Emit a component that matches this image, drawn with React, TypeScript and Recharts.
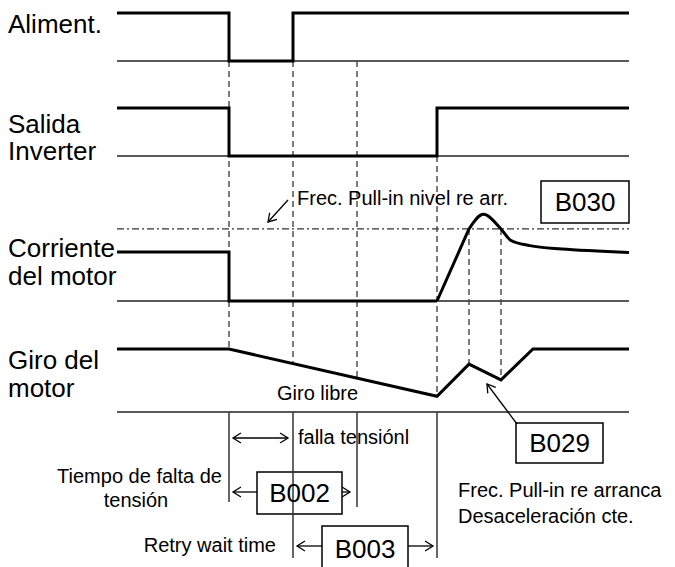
import { ComposedChart, Line, XAxis, YAxis, ReferenceLine, ReferenceArea, ReferenceDot } from "recharts";

const W = 675;
const H = 567;
const X0 = 117; // pixel where t = 0
const STEP = 32; // pixels per time step
const tx = (px: number) => (px - X0) / STEP;

// time steps, signal levels (1 = normal level)
const T_END = 16;
const powerT = [0, 3.5, 5.5, 16];
const powerV = [1, 0, 1, 1];
const outputT = [0, 3.5, 10, 16];
const outputV = [1, 0, 1, 1];
const currentT = [0, 3.5, 10];
const currentV = [1, 0, 0];
const riseT = [10, 11];
const riseV = [0, 1.47];
const recoverT = [11, 11.45, 12, 12.3, 12.9, 13.9, 15, 16];
const recoverV = [1.47, 1.77, 1.47, 1.24, 1.13, 1.06, 1.02, 0.99];
const speedT = [0, 3.5, 10, 11, 12, 13, 16];
const speedV = [1, 1, 0.25, 0.76, 0.51, 1, 1];
const pullInLevel = 1.47;
const markT = [3.5, 5.5, 7.5, 10, 11, 12];

const rows = {
  power: { base: 61, amp: 48 },
  output: { base: 156, amp: 48 },
  current: { base: 301, amp: 49 },
  speed: { base: 412, amp: 63 },
};
type Row = { base: number; amp: number };
const lv = (row: Row, v: number) => row.base - v * row.amp;
const pts = (ts: number[], vs: number[], row: Row) => ts.map((t, i) => ({ t, y: lv(row, vs[i]) }));

const speedAt = (t: number) => {
  for (let i = 1; i < speedT.length; i++) {
    if (t <= speedT[i]) {
      const k = (t - speedT[i - 1]) / (speedT[i] - speedT[i - 1]);
      return lv(rows.speed, speedV[i - 1] + k * (speedV[i] - speedV[i - 1]));
    }
  }
  return lv(rows.speed, speedV[speedV.length - 1]);
};

const pullY = lv(rows.current, pullInLevel);
const markTop = (t: number) => (t < 10 ? rows.power.base : t === 10 ? rows.output.base : pullY);
const markBottom: Record<number, number> = { 3.5: 502, 5.5: 558, 7.5: 507, 10: 558 };

const FONT = '"Liberation Sans", Arial, sans-serif';

function arrow(both: boolean) {
  return (p: any) => {
    const { x1, y1, x2, y2 } = p;
    const a = Math.atan2(y2 - y1, x2 - x1);
    const L = 9.4;
    const S = 0.56;
    const head = (x: number, y: number, ang: number) =>
      `${x + L * Math.cos(ang + Math.PI - S)},${y + L * Math.sin(ang + Math.PI - S)} ${x},${y} ${x + L * Math.cos(ang + Math.PI + S)},${y + L * Math.sin(ang + Math.PI + S)}`;
    return (
      <g fill="none" stroke="#000" strokeWidth={1.3}>
        <line x1={x1} y1={y1} x2={x2} y2={y2} />
        <polyline points={head(x2, y2, a)} />
        {both && <polyline points={head(x1, y1, a + Math.PI)} />}
      </g>
    );
  };
}

function note(key: string, px: number, py: number, text: string, size: number, anchor: "start" | "middle" | "end" = "start") {
  return (
    <ReferenceDot
      key={key}
      x={tx(px)}
      y={py}
      r={0}
      ifOverflow="visible"
      shape={(p: any) => (
        <text x={p.cx} y={p.cy} fontSize={size} textAnchor={anchor} fill="#000" fontFamily={FONT}>
          {text}
        </text>
      )}
    />
  );
}

function box(key: string, x1: number, x2: number, y1: number, y2: number, text: string) {
  return (
    <ReferenceArea
      key={key}
      x1={tx(x1)}
      x2={tx(x2)}
      y1={y1}
      y2={y2}
      ifOverflow="visible"
      fill="#fff"
      fillOpacity={1}
      stroke="#000"
      strokeWidth={1.5}
      label={{ value: text, position: "center", fontSize: 26, fill: "#000", fontFamily: FONT }}
    />
  );
}

function seg(key: string, t1: number, y1: number, t2: number, y2: number, shape: any) {
  return <ReferenceLine key={key} segment={[{ x: t1, y: y1 }, { x: t2, y: y2 }]} ifOverflow="visible" shape={shape} />;
}

function signal(data: { t: number; y: number }[], type: "stepAfter" | "linear" | "monotone") {
  return (
    <Line
      data={data}
      dataKey="y"
      type={type}
      stroke="#000"
      strokeWidth={3}
      dot={false}
      activeDot={false}
      isAnimationActive={false}
    />
  );
}

export default function App() {
  return (
    <div style={{ position: "absolute", left: 0, top: 0, width: W, height: H, background: "#fff", fontFamily: FONT }}>
      <ComposedChart width={W} height={H} margin={{ top: 0, right: 0, bottom: 0, left: 0 }}>
        <XAxis type="number" dataKey="t" domain={[-X0 / STEP, (W - X0) / STEP]} allowDataOverflow hide />
        <YAxis type="number" dataKey="y" domain={[0, H]} reversed allowDataOverflow hide />

        {Object.entries(rows).map(([k, r]) => (
          <ReferenceLine key={"base-" + k} segment={[{ x: 0, y: r.base }, { x: T_END, y: r.base }]} stroke="#222" strokeWidth={1.6} />
        ))}
        <ReferenceLine segment={[{ x: 0, y: pullY }, { x: T_END, y: pullY }]} stroke="#333" strokeWidth={1.3} strokeDasharray="7 3 2 3" />

        {markT.map((t) => (
          <ReferenceLine key={"m-" + t} segment={[{ x: t, y: markTop(t) }, { x: t, y: speedAt(t) }]} stroke="#444" strokeWidth={1.4} strokeDasharray="6 4" />
        ))}
        {markT.filter((t) => markBottom[t]).map((t) => (
          <ReferenceLine key={"b-" + t} segment={[{ x: t, y: rows.speed.base }, { x: t, y: markBottom[t] }]} stroke="#333" strokeWidth={1.5} />
        ))}

        {signal(pts(powerT, powerV, rows.power), "stepAfter")}
        {signal(pts(outputT, outputV, rows.output), "stepAfter")}
        {signal(pts(currentT, currentV, rows.current), "stepAfter")}
        {signal(pts(riseT, riseV, rows.current), "linear")}
        {signal(pts(recoverT, recoverV, rows.current), "monotone")}
        {signal(pts(speedT, speedV, rows.speed), "linear")}

        {seg("a-gap", tx(233), 438, tx(288), 438, arrow(true))}
        {seg("a-b002l", tx(257), 492, tx(233), 492, arrow(false))}
        {seg("a-b002r", tx(342), 492, tx(350), 492, arrow(false))}
        {seg("a-b003l", tx(322), 546, tx(297), 546, arrow(false))}
        {seg("a-b003r", tx(408), 546, tx(433), 546, arrow(false))}
        {seg("a-frec", tx(288), 200, tx(268), 222, arrow(false))}
        {seg("a-b029", tx(517), 424, tx(487), 384, arrow(false))}

        {box("b030", 541, 629, 181, 223, "B030")}
        {box("b029", 516, 603, 423, 463, "B029")}
        {box("b002", 257, 342, 472, 514, "B002")}
        {box("b003", 322, 408, 526, 572, "B003")}

        {note("l1", 8, 33, "Aliment.", 26)}
        {note("l2", 8, 133, "Salida", 26)}
        {note("l3", 8, 160, "Inverter", 26)}
        {note("l4", 8, 257, "Corriente", 26)}
        {note("l5", 8, 285, "del motor", 26)}
        {note("l6", 8, 369, "Giro del", 26)}
        {note("l7", 8, 397, "motor", 26)}

        {note("n1", 297, 205, "Frec. Pull-in nivel re arr.", 20)}
        {note("n2", 277, 400, "Giro libre", 20)}
        {note("n3", 298, 444, "falla tensiónl", 20)}
        {note("n4", 222, 483, "Tiempo de falta de", 20, "end")}
        {note("n5", 136, 507, "tensión", 20, "middle")}
        {note("n6", 276, 552, "Retry wait time", 20, "end")}
        {note("n7", 458, 497, "Frec. Pull-in re arranca", 20)}
        {note("n8", 458, 523, "Desaceleración cte.", 20)}
      </ComposedChart>
    </div>
  );
}
